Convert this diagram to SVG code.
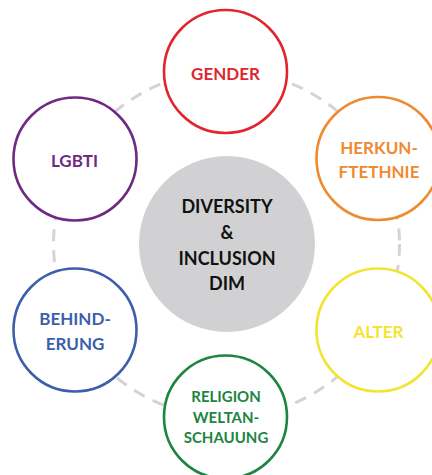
<svg xmlns="http://www.w3.org/2000/svg" width="432" height="475" viewBox="0 0 432 475">
  <style>
    .node { fill: #ffffff; stroke-width: 2.6; }
    .lbl { font-family: Lato, "Open Sans", "Liberation Sans", sans-serif; font-weight: bold; font-size: 17px; text-anchor: middle; }
    .sm { font-size: 15px; }
    .hub { fill: #d1d1d3; }
    .hubtxt { fill: #111111; font-size: 18px; }
  </style>
  <rect width="432" height="475" fill="#ffffff"/>

  <!-- dashed ring linking the dimensions -->
  <g id="connectors">
    <circle cx="226.5" cy="244" r="173" fill="none" stroke="#d4d4d6" stroke-width="3" stroke-dasharray="12 9"/>
  </g>

  <g id="hub">
    <circle class="hub" cx="227" cy="244" r="88"/>
    <text class="lbl hubtxt" x="227" y="213">DIVERSITY</text>
    <text class="lbl hubtxt" x="227" y="239">&amp;</text>
    <text class="lbl hubtxt" x="227" y="265">INCLUSION</text>
    <text class="lbl hubtxt" x="227" y="290">DIM</text>
  </g>

  <g id="gender">
    <circle class="node" cx="225.5" cy="71.5" r="61.5" stroke="#e1252d"/>
    <text class="lbl" x="225.5" y="80" fill="#e1252d">GENDER</text>
  </g>

  <g id="herkunft">
    <circle class="node" cx="378" cy="158.5" r="61.5" stroke="#ef8a30"/>
    <text class="lbl" x="379" y="154" fill="#ef8a30">HERKUN-</text>
    <text class="lbl" x="379" y="178" fill="#ef8a30">FTETHNIE</text>
  </g>

  <g id="alter">
    <circle class="node" cx="378" cy="330" r="61.5" stroke="#f3e431"/>
    <text class="lbl" x="378.5" y="338" fill="#f3e431">ALTER</text>
  </g>

  <g id="religion">
    <circle class="node" cx="225.5" cy="417" r="61.5" stroke="#1d8442"/>
    <text class="lbl sm" x="226" y="402" fill="#1d8442">RELIGION</text>
    <text class="lbl sm" x="226" y="423" fill="#1d8442">WELTAN-</text>
    <text class="lbl sm" x="226" y="443" fill="#1d8442">SCHAUUNG</text>
  </g>

  <g id="behinderung">
    <circle class="node" cx="75" cy="330" r="61.5" stroke="#3d5fab"/>
    <text class="lbl" x="75" y="325" fill="#3d5fab">BEHIND-</text>
    <text class="lbl" x="75" y="350" fill="#3d5fab">ERUNG</text>
  </g>

  <g id="lgbti">
    <circle class="node" cx="75" cy="159" r="61.5" stroke="#6e2a82"/>
    <text class="lbl" x="74.5" y="167" fill="#6e2a82">LGBTI</text>
  </g>
</svg>
